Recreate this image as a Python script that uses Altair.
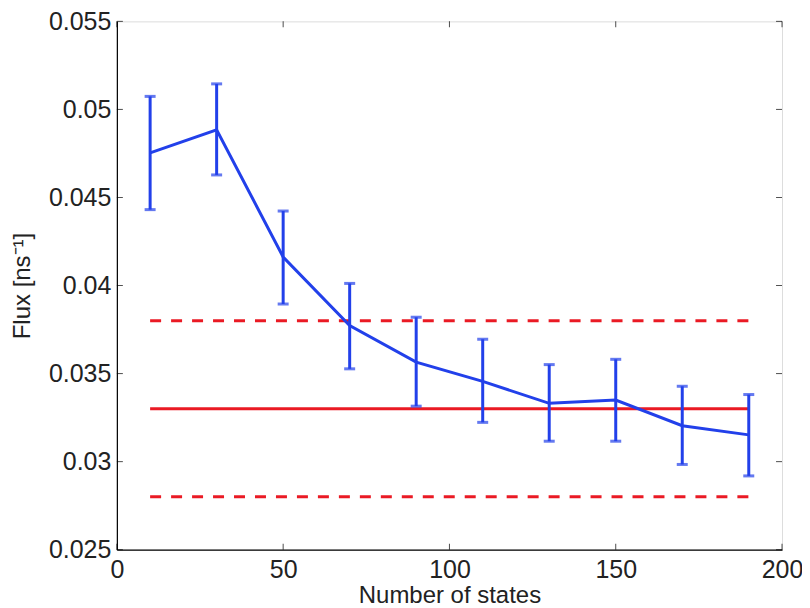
import altair as alt
import pandas as pd

# data
n_states = [10, 30, 50, 70, 90, 110, 130, 150, 170, 190]
flux = [0.04753, 0.04884, 0.04162, 0.03773, 0.03565, 0.03456, 0.03331, 0.03350, 0.03204, 0.03152]
flux_hi = [0.05074, 0.05145, 0.04423, 0.04012, 0.03820, 0.03695, 0.03551, 0.03581, 0.03428, 0.03381]
flux_lo = [0.04431, 0.04628, 0.03895, 0.03527, 0.03315, 0.03223, 0.03116, 0.03116, 0.02984, 0.02919]

ref_x_start = [10, 10, 10]
ref_x_end = [190, 190, 190]
ref_level = [0.033, 0.038, 0.028]
ref_kind = ["solid", "dashed", "dashed"]

x_ticks = [0, 50, 100, 150, 200]
y_ticks = [0.025, 0.03, 0.035, 0.04, 0.045, 0.05, 0.055]

BLUE = "#2240ea"
RED = "#ea1a24"
FONT = "Liberation Sans"
W, H = 666, 529
TL = 6  # inward tick length

df = pd.DataFrame({"n": n_states, "flux": flux, "hi": flux_hi, "lo": flux_lo})
ref = pd.DataFrame({"x0": ref_x_start, "x1": ref_x_end, "y": ref_level, "kind": ref_kind})
xt = pd.DataFrame({"t": x_ticks})
yt = pd.DataFrame({"t": y_ticks})

xscale = alt.Scale(domain=[0, 200], nice=False, zero=False)
yscale = alt.Scale(domain=[0.025, 0.055], nice=False, zero=False)

xaxis = alt.Axis(values=x_ticks, title="Number of states", ticks=False, grid=False,
                 labelFontSize=25, titleFontSize=24, labelFont=FONT, titleFont=FONT,
                 labelColor="#222", titleColor="#222", titleFontWeight="normal",
                 labelPadding=8, titlePadding=1, domainColor="black", domainWidth=1.2,
                 labelFlush=False)
yaxis = alt.Axis(values=y_ticks, title="Flux [ns⁻¹]", ticks=False, grid=False,
                 labelFontSize=25, titleFontSize=24, labelFont=FONT, titleFont=FONT,
                 labelColor="#222", titleColor="#222", titleFontWeight="normal",
                 labelPadding=6, titlePadding=14, domainColor="black", domainWidth=1.2,
                 format="~g", labelFlush=False)

base = alt.Chart(df)

line = base.mark_line(color=BLUE, strokeWidth=3).encode(
    x=alt.X("n:Q", scale=xscale, axis=xaxis),
    y=alt.Y("flux:Q", scale=yscale, axis=yaxis),
)
bars = base.mark_rule(color=BLUE, strokeWidth=3).encode(
    x=alt.X("n:Q", scale=xscale), y=alt.Y("lo:Q", scale=yscale), y2="hi:Q"
)
cap_hi = base.mark_tick(color=BLUE, orient="horizontal", size=11, thickness=3).encode(
    x=alt.X("n:Q", scale=xscale), y=alt.Y("hi:Q", scale=yscale)
)
cap_lo = base.mark_tick(color=BLUE, orient="horizontal", size=11, thickness=3).encode(
    x=alt.X("n:Q", scale=xscale), y=alt.Y("lo:Q", scale=yscale)
)

ref_solid = alt.Chart(ref).transform_filter("datum.kind == 'solid'").mark_rule(
    color=RED, strokeWidth=3).encode(
    x=alt.X("x0:Q", scale=xscale), x2="x1:Q", y=alt.Y("y:Q", scale=yscale))
ref_dashed = alt.Chart(ref).transform_filter("datum.kind == 'dashed'").mark_rule(
    color=RED, strokeWidth=3, strokeDash=[11, 10]).encode(
    x=alt.X("x0:Q", scale=xscale), x2="x1:Q", y=alt.Y("y:Q", scale=yscale))

# inward ticks on all four sides
tick_style = dict(color="black", thickness=1, size=TL)
yt_left = alt.Chart(yt).mark_tick(orient="horizontal", **tick_style).encode(
    y=alt.Y("t:Q", scale=yscale), x=alt.value(TL / 2))
yt_right = alt.Chart(yt).mark_tick(orient="horizontal", **tick_style).encode(
    y=alt.Y("t:Q", scale=yscale), x=alt.value(W - TL / 2))
xt_bottom = alt.Chart(xt).mark_tick(orient="vertical", **tick_style).encode(
    x=alt.X("t:Q", scale=xscale), y=alt.value(H - TL / 2))
xt_top = alt.Chart(xt).mark_tick(orient="vertical", **tick_style).encode(
    x=alt.X("t:Q", scale=xscale), y=alt.value(TL / 2))

chart = alt.layer(
    ref_solid, ref_dashed, line, bars, cap_hi, cap_lo,
    yt_left, yt_right, xt_bottom, xt_top
).properties(
    width=W, height=H,
    autosize=alt.AutoSizeParams(type="none"),
    padding={"left": 109, "top": 13, "right": 20, "bottom": 58},
).configure_view(
    stroke="black", strokeWidth=1.2
).configure(background="white")

chart.save("out.html", embed_options={"renderer": "svg", "actions": False})
